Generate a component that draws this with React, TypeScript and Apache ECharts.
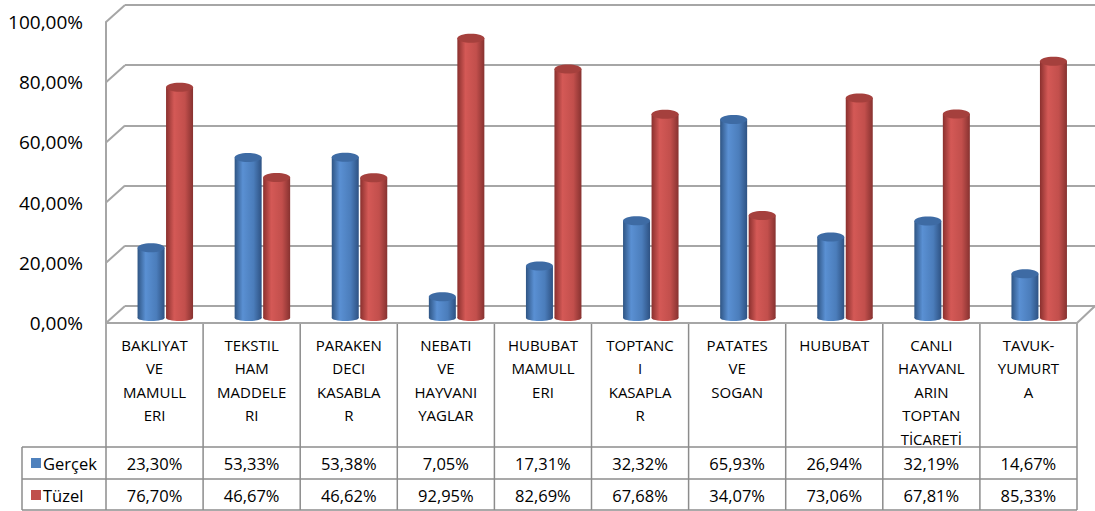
import React, { useEffect, useRef } from "react";
import * as echarts from "echarts";

const categories = [
  "BAKLIYAT\nVE\nMAMULL\nERI",
  "TEKSTIL\nHAM\nMADDELE\nRI",
  "PARAKEN\nDECI\nKASABLA\nR",
  "NEBATI\nVE\nHAYVANI\nYAGLAR",
  "HUBUBAT\nMAMULL\nERI",
  "TOPTANC\nI\nKASAPLA\nR",
  "PATATES\nVE\nSOGAN",
  "HUBUBAT",
  "CANLI\nHAYVANL\nARIN\nTOPTAN\nTİCARETİ",
  "TAVUK-\nYUMURT\nA",
];
const gercek = [23.3, 53.33, 53.38, 7.05, 17.31, 32.32, 65.93, 26.94, 32.19, 14.67];
const tuzel = [76.7, 46.67, 46.62, 92.95, 82.69, 67.68, 34.07, 73.06, 67.81, 85.33];
const seriesNames = ["Gerçek", "Tüzel"];
const yTicks = [0, 20, 40, 60, 80, 100];

const FONT = "Open Sans";
const fmt = (v: number) => v.toFixed(2).replace(".", ",") + "%";

const BLUE = "#4F81BD";
const RED = "#C0504D";

function cylinder(offset: number, width: number, stops: string[], topColor: string) {
  return (params: any, api: any) => {
    const c = api.value(0);
    const v = api.value(1);
    const top = api.coord([c, v]);
    const base = api.coord([c, 0]);
    const cx = top[0] + offset;
    const x = cx - width / 2;
    const grad = new echarts.graphic.LinearGradient(0, 0, 1, 0, [
      { offset: 0, color: stops[0] },
      { offset: 0.3, color: stops[1] },
      { offset: 0.7, color: stops[2] },
      { offset: 1, color: stops[3] },
    ]);
    return {
      type: "group",
      children: [
        { type: "ellipse", shape: { cx, cy: base[1], rx: width / 2, ry: 3 }, style: { fill: grad } },
        { type: "rect", shape: { x, y: top[1], width, height: base[1] - top[1] }, style: { fill: grad } },
        { type: "ellipse", shape: { cx, cy: top[1], rx: width / 2, ry: 4.5 }, style: { fill: topColor } },
      ],
    };
  };
}

export default function App() {
  const ref = useRef<HTMLDivElement>(null);
  useEffect(() => {
    if (!ref.current) return;
    const chart = echarts.init(ref.current, undefined, { renderer: "svg" });

    const fL = 106, fR = 1077, fTop = 22, fBot = 323;
    const bL = 125, bTop = 5, bBot = 306;
    const colW = (fR - fL) / categories.length;
    const lineColor = "#8C8C8C";
    const gridColor = "#A6A6A6";

    const graphics: any[] = [];
    yTicks.forEach((t) => {
      const yf = fBot - ((fBot - fTop) * t) / 100;
      const yb = bBot - ((bBot - bTop) * t) / 100;
      graphics.push({
        type: "line",
        shape: { x1: fL, y1: yf, x2: bL, y2: yb },
        style: { stroke: gridColor, lineWidth: 2 },
        z: 1,
      });
    });
    graphics.push({
      type: "line",
      shape: { x1: fR, y1: fBot, x2: 1095, y2: bBot },
      style: { stroke: gridColor, lineWidth: 2 },
      z: 1,
    });
    graphics.push({
      type: "line",
      shape: { x1: fL, y1: fBot, x2: fR, y2: fBot },
      style: { stroke: gridColor, lineWidth: 2 },
      z: 1,
    });
    const rowTop1 = 447, rowTop2 = 479, rowBot = 510, legL = 22;
    for (let k = 0; k <= categories.length; k++) {
      const x = fL + k * colW;
      graphics.push({
        type: "line",
        shape: { x1: x, y1: fBot, x2: x, y2: rowBot },
        style: { stroke: lineColor, lineWidth: 1.5 },
      });
    }
    graphics.push({ type: "line", shape: { x1: legL, y1: rowTop1, x2: legL, y2: rowBot }, style: { stroke: lineColor, lineWidth: 1.5 } });
    [rowTop1, rowTop2, rowBot].forEach((y) =>
      graphics.push({ type: "line", shape: { x1: legL, y1: y, x2: fR, y2: y }, style: { stroke: lineColor, lineWidth: 1.5 } })
    );
    const rows = [gercek, tuzel];
    const colors = [BLUE, RED];
    rows.forEach((arr, r) => {
      const cy = (r === 0 ? rowTop1 : rowTop2) + 16;
      graphics.push({ type: "rect", shape: { x: 31, y: cy - 5, width: 10, height: 10 }, style: { fill: colors[r] } });
      graphics.push({
        type: "text",
        style: { text: seriesNames[r], x: 43, y: cy, verticalAlign: "middle", align: "left", fontFamily: FONT, fontSize: 16.5, fill: "#000" },
      });
      arr.forEach((v, i) => {
        graphics.push({
          type: "text",
          style: { text: fmt(v), x: fL + (i + 0.5) * colW, y: cy, align: "center", verticalAlign: "middle", fontFamily: FONT, fontSize: 16.5, fill: "#000" },
        });
      });
    });

    chart.setOption({
      animation: false,
      textStyle: { fontFamily: FONT },
      grid: [
        { left: bL, right: 0, top: bTop, height: bBot - bTop, containLabel: false },
        { left: fL, width: fR - fL, top: fTop, height: fBot - fTop, containLabel: false },
        { left: 117, width: fR - fL, top: 17, height: 301, containLabel: false },
      ],
      xAxis: [
        { gridIndex: 0, type: "category", data: categories, show: false },
        {
          gridIndex: 1,
          type: "category",
          data: categories,
          axisLine: { show: false },
          axisTick: { show: false },
          axisLabel: { interval: 0, margin: 10, fontSize: 15, lineHeight: 23.5, color: "#000", fontFamily: FONT, verticalAlign: "top" },
        },
        { gridIndex: 2, type: "category", data: categories, show: false },
      ],
      yAxis: [
        {
          gridIndex: 0, type: "value", min: 0, max: 100, interval: 20,
          axisLine: { show: false }, axisTick: { show: false }, axisLabel: { show: false },
          splitLine: { show: true, lineStyle: { color: gridColor, width: 2 } },
        },
        {
          gridIndex: 1, type: "value", min: 0, max: 100, interval: 20,
          axisLine: { show: true, lineStyle: { color: gridColor, width: 2 } },
          axisTick: { show: false },
          splitLine: { show: false },
          axisLabel: { margin: 23, fontSize: 19, color: "#000", fontFamily: FONT, formatter: (v: number) => fmt(v) },
        },
        { gridIndex: 2, type: "value", min: 0, max: 100, show: false, splitLine: { show: false } },
      ],
      series: [
        {
          name: seriesNames[0],
          type: "custom",
          xAxisIndex: 2,
          yAxisIndex: 2,
          z: 5,
          data: gercek.map((v, i) => [i, v]),
          renderItem: cylinder(-14.5, 27, ["#2F5584", "#5A90D3", "#4B7DBB", "#2E5283"], "#3E6BA4"),
        },
        {
          name: seriesNames[1],
          type: "custom",
          xAxisIndex: 2,
          yAxisIndex: 2,
          z: 5,
          data: tuzel.map((v, i) => [i, v]),
          renderItem: cylinder(14, 27, ["#8A302E", "#D45956", "#C24F4C", "#873230"], "#A5403D"),
        },
      ],
      graphic: graphics,
    });
    return () => chart.dispose();
  }, []);
  return <div ref={ref} style={{ position: "fixed", left: 0, top: 0, width: 1095, height: 511, background: "#fff" }} />;
}
